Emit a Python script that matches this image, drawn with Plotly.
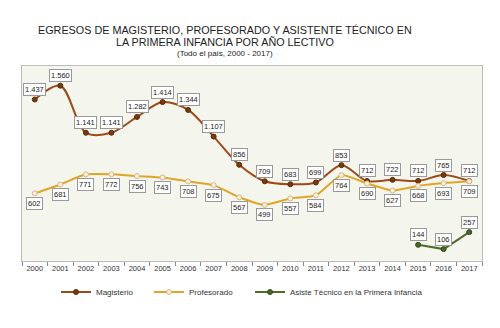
import plotly.graph_objects as go

years = [str(y) for y in range(2000, 2018)]
magisterio = [1437, 1560, 1141, 1141, 1282, 1414, 1344, 1107, 856, 709, 683, 699, 853, 712, 722, 712, 765, 712]
profesorado = [602, 681, 771, 772, 756, 743, 708, 675, 567, 499, 557, 584, 764, 690, 627, 668, 693, 709]
asiste_years = ["2015", "2016", "2017"]
asiste = [144, 106, 257]

def fmt(v):
    return f"{v:,}".replace(",", ".")

fig = go.Figure()
fig.add_trace(go.Scatter(x=years, y=magisterio, name="Magisterio", mode="lines+markers", legend="legend",
                         line=dict(color="#9C4A1A", width=2, shape="spline", smoothing=0.9),
                         marker=dict(color="#7A3A10", size=5, line=dict(color="#5A2A08", width=1))))
fig.add_trace(go.Scatter(x=years, y=profesorado, name="Profesorado", mode="lines+markers", legend="legend2",
                         line=dict(color="#E0A526", width=2, shape="spline", smoothing=0.5),
                         marker=dict(color="#F4F0E0", size=5, line=dict(color="#D9B880", width=1))))
fig.add_trace(go.Scatter(x=asiste_years, y=asiste, name="Asiste Técnico en la Primera Infancia", mode="lines+markers",
                         legend="legend3",
                         line=dict(color="#4E6B2A", width=2),
                         marker=dict(color="#4A6624", size=5, line=dict(color="#33491A", width=1))))

ann = []
def lab(x, y, shift):
    ann.append(dict(x=years.index(x), y=y, text=fmt(y), showarrow=False, yshift=shift,
                    font=dict(size=7.5, color="#222", family="Liberation Sans"),
                    bgcolor="white", bordercolor="#999", borderwidth=1, borderpad=1))
for x, y in zip(years, magisterio):
    lab(x, y, 10)
for x, y in zip(years, profesorado):
    lab(x, y, -10)
for x, y in zip(asiste_years, asiste):
    lab(x, y, 10)

L, R, T, B = 22, 18, 66, 67
ph = 328 - T - B
pw = 500 - L - R
titles = [("EGRESOS DE MAGISTERIO, PROFESORADO Y ASISTENTE TÉCNICO EN", 30, 10.8),
          ("LA PRIMERA INFANCIA POR AÑO LECTIVO", 42, 10.8),
          ("(Todo el país, 2000 - 2017)", 53, 8)]
for t, ypx, sz in titles:
    ann.append(dict(x=(225 - L) / pw, y=(328 - B - ypx) / ph, xref="paper", yref="paper", text=t,
                    showarrow=False, xanchor="center", yanchor="middle",
                    font=dict(size=sz, color="#222", family="Liberation Sans")))

def leg(xpx):
    return dict(orientation="h", x=(xpx - L) / pw, xanchor="left",
                y=(328 - B - 292) / ph, yanchor="middle",
                font=dict(size=8, color="#333"), itemwidth=30, bgcolor="rgba(0,0,0,0)")

fig.update_layout(
    width=500, height=328,
    margin=dict(l=L, r=R, t=T, b=B),
    paper_bgcolor="white", plot_bgcolor="#F4F6EE",
    font=dict(family="Liberation Sans", color="#333"),
    annotations=ann,
    showlegend=True,
    legend=leg(56), legend2=leg(149), legend3=leg(250),
    xaxis=dict(type="category", tickson="boundaries", ticks="outside", ticklen=4, tickangle=0,
               tickcolor="#888", showline=True, linecolor="#BBB", mirror=True,
               showgrid=False, tickfont=dict(size=7.5, color="#333"), range=[-0.5, 17.5]),
    yaxis=dict(range=[0, 1735], showticklabels=False, showgrid=False, zeroline=False,
               showline=True, linecolor="#BBB", mirror=True),
)
fig.write_html("out.html")
